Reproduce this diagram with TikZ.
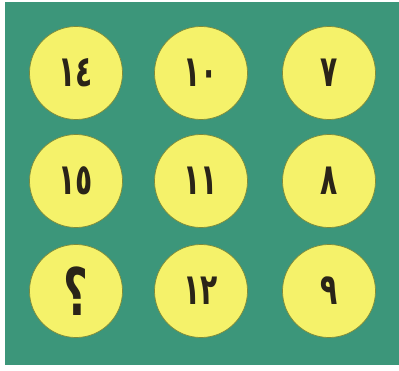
\documentclass[tikz,border=0pt]{standalone}
\usepackage{fontspec}
\usetikzlibrary{positioning}
\newfontfamily\arabicfont[Script=Arabic, FakeStretch=0.65]{DejaVu Sans}
\TeXXeTstate=1
\definecolor{boardFill}{HTML}{3C967A}
\definecolor{discFill}{HTML}{F5F26A}
\definecolor{discDraw}{HTML}{7E8A3A}
\definecolor{numText}{HTML}{2A2418}

\begin{document}
\begin{tikzpicture}[
  x=0.03cm, y=-0.03cm,
  disc/.style={circle, fill=discFill, draw=discDraw, line width=0.6pt,
               minimum size=2.79cm, inner sep=0pt, text=numText,
               font=\arabicfont\bfseries\fontsize{37}{37}\selectfont},
]
\useasboundingbox (0,0) rectangle (399,370);

% ---- Board ----
\fill[boardFill] (5,2) rectangle (399,365);

% ---- Row 1 ----
\node[disc] (n14) at (76,73)  {١٤};
\node[disc] (n10) at (201,73) {١٠};
\node[disc] (n7)  at (329,73) {٧};

% ---- Row 2 ----
\node[disc] (n15) at (76,181)  {١٥};
\node[disc] (n11) at (201,181) {١١};
\node[disc] (n8)  at (329,181) {٨};

% ---- Row 3 ----
\node[disc, font=\arabicfont\bfseries\fontsize{56}{56}\selectfont]
     (ask) at (76,291) {\beginR ؟\endR};
\node[disc] (n12) at (201,291) {١٢};
\node[disc] (n9)  at (329,291) {٩};

\end{tikzpicture}
\end{document}
